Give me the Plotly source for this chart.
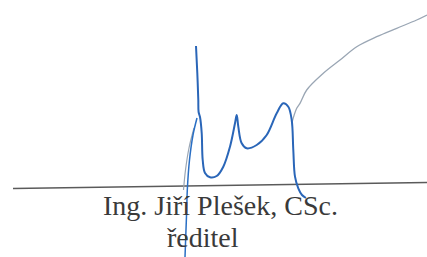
import plotly.graph_objects as go

# Signature strokes (image pixel coordinates)
stem_x = [196, 197.3, 198.3, 198.6, 200, 201.7, 202.7, 205, 210, 216.7, 223.3, 230, 235, 236.7,
          238.3, 241.7, 246.7, 256.7, 266.7, 276.7, 283.3, 288.3, 291.7, 293.3, 295, 298.3, 302, 306]
stem_y = [46, 73, 100, 112, 117, 133, 160, 173, 177.3, 176, 166.7, 146.7, 123.3, 115,
          126.7, 143.3, 148.3, 145, 135, 113.3, 103.3, 106.7, 120, 150, 176.7, 188.3, 195, 198]

tail_x = [197, 193, 189.5, 187.3, 186.7, 185.8, 185]
tail_y = [118, 135, 160, 190, 210, 235, 257]

ghost_x = [194, 189, 185.5, 183.5]
ghost_y = [128, 148, 170, 190]

flourish_x = [291.7, 296.7, 300, 306.7, 323.3, 340, 356.7, 376.7, 396.7, 416.7, 427]
flourish_y = [123.3, 108.3, 103.3, 90, 73.3, 60, 46.7, 36.7, 28.3, 20, 15]

rule_x = [13, 427]
rule_y = [188.5, 182.5]

name_text = "Ing. Jiří Plešek, CSc."
title_text = "ředitel"

fig = go.Figure()
fig.add_trace(go.Scatter(x=rule_x, y=rule_y, mode="lines",
                         line=dict(color="#5a5a5a", width=1.6), hoverinfo="skip"))
fig.add_trace(go.Scatter(x=flourish_x, y=flourish_y, mode="lines",
                         line=dict(color="#9aa6b4", width=1.3, shape="spline"), hoverinfo="skip"))
fig.add_trace(go.Scatter(x=ghost_x, y=ghost_y, mode="lines",
                         line=dict(color="#9aa6b4", width=1.2, shape="spline"), hoverinfo="skip"))
fig.add_trace(go.Scatter(x=stem_x, y=stem_y, mode="lines",
                         line=dict(color="#2a66b8", width=2, shape="spline"), hoverinfo="skip"))
fig.add_trace(go.Scatter(x=tail_x, y=tail_y, mode="lines",
                         line=dict(color="#2a6fc4", width=1.5, shape="spline"), hoverinfo="skip"))

fig.add_annotation(x=101, y=205, text=name_text, showarrow=False, xanchor="left", yanchor="middle",
                   font=dict(family="Liberation Serif", size=28, color="#3a3a3a"))
fig.add_annotation(x=165, y=237, text=title_text, showarrow=False, xanchor="left", yanchor="middle",
                   font=dict(family="Liberation Serif", size=28, color="#3a3a3a"))

fig.update_layout(width=427, height=257, margin=dict(l=0, r=0, t=0, b=0),
                  paper_bgcolor="white", plot_bgcolor="white", showlegend=False,
                  xaxis=dict(range=[0, 427], visible=False, fixedrange=True),
                  yaxis=dict(range=[257, 0], visible=False, fixedrange=True))
fig.write_html("out.html", config={"displayModeBar": False},
               post_script="document.body.style.margin='0';document.body.style.overflow='hidden';")
